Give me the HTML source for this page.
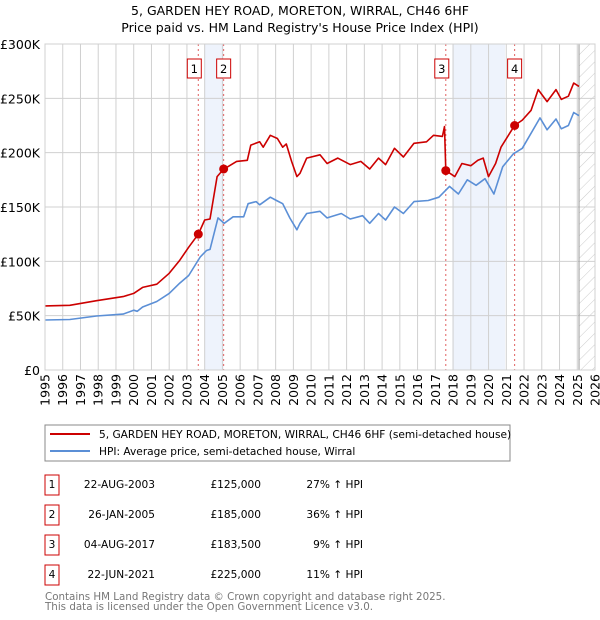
<!DOCTYPE html>
<html><head><meta charset="utf-8">
<style>
body{margin:0;background:#fff;font-family:"DejaVu Sans","Liberation Sans",sans-serif;}
#wrap{position:relative;width:600px;height:620px;overflow:hidden;}
svg text{font-family:"DejaVu Sans","Liberation Sans",sans-serif;}
</style></head>
<body>
<div id="wrap">
<svg id="chart" width="600" height="620"></svg>
</div>
<script>
const yTicks=[0,50000,100000,150000,200000,250000,300000];
const yTickLabels=["£0","£50K","£100K","£150K","£200K","£250K","£300K"];
const xYears=[1995,1996,1997,1998,1999,2000,2001,2002,2003,2004,2005,2006,2007,2008,2009,2010,2011,2012,2013,2014,2015,2016,2017,2018,2019,2020,2021,2022,2023,2024,2025,2026];
const hpiT=[1995,1996.4,1997.9,1999.4,2000,2000.2,2000.5,2001.3,2002,2002.6,2003.1,2003.75,2004.1,2004.3,2004.75,2005.1,2005.6,2006.2,2006.45,2006.9,2007.1,2007.7,2008.05,2008.4,2008.8,2009.2,2009.37,2009.75,2010.5,2010.9,2011.7,2012.2,2012.9,2013.3,2013.8,2014.2,2014.7,2015.2,2015.8,2016.6,2017.2,2017.8,2018.3,2018.8,2019.3,2019.8,2020.3,2020.8,2021.4,2021.9,2022.9,2023.3,2023.8,2024.1,2024.5,2024.8,2025.1];
const hpiV=[46000,46500,49700,51400,55000,54000,58000,63000,70500,80000,87000,104000,110000,111000,140000,135000,141000,141000,153000,155000,152000,159000,156000,153000,140000,129000,135000,144000,146000,140000,144000,139000,142000,135000,144000,138000,150000,144000,155000,156000,159000,169000,162000,175000,170000,176000,162000,187000,199000,204000,232000,221000,231000,222000,225000,237000,234000];
const priceT=[1995,1996.4,1997.9,1999.4,2000,2000.5,2001.3,2002,2002.6,2003.1,2003.64,2004,2004.3,2004.7,2005.07,2005.3,2005.8,2006.4,2006.6,2007.1,2007.3,2007.7,2008.1,2008.4,2008.6,2008.9,2009.2,2009.37,2009.75,2010.5,2010.9,2011.5,2012.2,2012.8,2013.3,2013.8,2014.2,2014.7,2015.2,2015.8,2016.5,2016.9,2017.4,2017.52,2017.59,2018.1,2018.5,2019,2019.4,2019.7,2020,2020.4,2020.7,2021.2,2021.47,2021.9,2022.4,2022.8,2023.3,2023.8,2024.1,2024.5,2024.8,2025.1];
const priceV=[59000,59500,63800,67500,70500,76000,79000,89000,101000,113000,125000,138000,139000,178000,185000,187000,192000,193000,207000,210000,205000,216000,213000,205000,208000,192000,178000,181000,195000,198000,190000,195000,189000,192000,185000,195000,189000,204000,196000,208600,210000,216000,215000,224000,183500,178000,190000,188000,193000,195000,178000,190000,205000,218000,225000,230000,239000,258000,247000,258000,249000,252000,264000,261000];
const saleT=[2003.64,2005.07,2017.59,2021.47];
const saleV=[125000,185000,183500,225000];
const saleLabels=["1","2","3","4"];
const shadeStart=[2004.0,2017.96];
const shadeEnd=[2005.07,2020.93];

const NS="http://www.w3.org/2000/svg";
const svg=document.getElementById('chart');
const X0=45,X1=595,Y0=370,Y1=44;
const xs=t=>X0+(t-1995)/31*(X1-X0);
const ys=v=>Y0-v/300000*(Y0-Y1);
function mk(tag,a,parent){const e=document.createElementNS(NS,tag);for(const k in a)e.setAttribute(k,a[k]);(parent||svg).appendChild(e);return e;}

let t=mk('text',{x:300,y:15,'text-anchor':'middle','font-size':12.5,fill:'#000'});t.textContent="5, GARDEN HEY ROAD, MORETON, WIRRAL, CH46 6HF";


t=mk('text',{x:300,y:32,'text-anchor':'middle','font-size':12.5,fill:'#000'});t.textContent="Price paid vs. HM Land Registry's House Price Index (HPI)";



for(let i=0;i<shadeStart.length;i++){
  const r=mk('rect',{x:xs(shadeStart[i]),y:Y1,width:xs(shadeEnd[i])-xs(shadeStart[i]),height:Y0-Y1,fill:'#eef3fc'});
  
  
}
const defs=mk('defs',{});
const pat=mk('pattern',{id:'hatch',width:8,height:8,patternUnits:'userSpaceOnUse',patternTransform:'rotate(45)'},defs);
mk('line',{x1:0,y1:0,x2:0,y2:8,stroke:'#ccc','stroke-width':1},pat);
const hx=xs(2025.1);
const hr=mk('rect',{x:hx,y:Y1,width:X1-hx,height:Y0-Y1,fill:'url(#hatch)'});


xYears.forEach(y=>{const l=mk('line',{x1:xs(y),x2:xs(y),y1:Y1,y2:Y0,stroke:'#d0d0d0','stroke-width':1});


const tx=mk('text',{x:0,y:0,'text-anchor':'end','font-size':12.5,fill:'#000',transform:'translate('+(xs(y)+4.5)+',374) rotate(-90)'});tx.textContent=y;

});
yTicks.forEach((v,i)=>{const l=mk('line',{x1:X0,x2:X1,y1:ys(v),y2:ys(v),stroke:'#d0d0d0','stroke-width':1});


const tx=mk('text',{x:40,y:ys(v)+5,'text-anchor':'end','font-size':12.5,fill:'#000'});tx.textContent=yTickLabels[i];

});
mk('line',{x1:hx,x2:hx,y1:Y1,y2:Y0,stroke:'#999','stroke-width':1});
saleT.forEach((s,i)=>{const l=mk('line',{x1:xs(s),x2:xs(s),y1:Y1,y2:Y0,stroke:'#e06060','stroke-width':1,'stroke-dasharray':'2,3'});


const g=mk('g',{});


const bx=(i==0||i==2)?xs(s)-11:xs(s)-7;
mk('rect',{x:bx,y:59,width:14,height:19,fill:'#fff',stroke:'#cc0000','stroke-width':1},g);
const tx=mk('text',{x:bx+7,y:73,'text-anchor':'middle','font-size':11.5,fill:'#000'},g);tx.textContent=saleLabels[i];});
function path(T,V,color,name){const d=T.map((tt,i)=>(i?'L':'M')+xs(tt).toFixed(1)+','+ys(V[i]).toFixed(1)).join('');
const p=mk('path',{d:d,fill:'none',stroke:color,'stroke-width':1.6,'stroke-linejoin':'round'});

}
path(hpiT,hpiV,'#5b8fd6','hpi-line');
path(priceT,priceV,'#cc0000','price-paid-line');
saleT.forEach((s,i)=>{const c=mk('circle',{cx:xs(s),cy:ys(saleV[i]),r:4.5,fill:'#cc0000'});

});
mk('rect',{x:X0,y:Y1,width:X1-X0,height:Y0-Y1,fill:'none',stroke:'#d0d0d0'});

const lg=mk('g',{});


mk('rect',{x:45,y:425,width:465,height:36,fill:'#fff',stroke:'#888'},lg);
mk('line',{x1:50,x2:90,y1:434,y2:434,stroke:'#cc0000','stroke-width':2},lg);
mk('line',{x1:50,x2:90,y1:451,y2:451,stroke:'#5b8fd6','stroke-width':2},lg);
t=mk('text',{x:99,y:438,'font-size':10.6,fill:'#000'},lg);t.textContent="5, GARDEN HEY ROAD, MORETON, WIRRAL, CH46 6HF (semi-detached house)";


t=mk('text',{x:99,y:455,'font-size':10.6,fill:'#000'},lg);t.textContent="HPI: Average price, semi-detached house, Wirral";



const dates=["22-AUG-2003","26-JAN-2005","04-AUG-2017","22-JUN-2021"];
const prices=["£125,000","£185,000","£183,500","£225,000"];
const pcts=["27% ↑ HPI","36% ↑ HPI","9% ↑ HPI","11% ↑ HPI"];
for(let i=0;i<4;i++){const cy=483+i*30;
const g=mk('g',{});


mk('rect',{x:45,y:cy-8,width:14,height:20,fill:'#fff',stroke:'#cc0000'},g);
let tx=mk('text',{x:52,y:cy+5,'text-anchor':'middle','font-size':10.6,fill:'#000'},g);tx.textContent=saleLabels[i];
tx=mk('text',{x:155,y:cy+5,'text-anchor':'end','font-size':10.6,fill:'#000'},g);tx.textContent=dates[i];
tx=mk('text',{x:261,y:cy+5,'text-anchor':'end','font-size':10.6,fill:'#000'},g);tx.textContent=prices[i];
tx=mk('text',{x:363,y:cy+5,'text-anchor':'end','font-size':10.6,fill:'#000'},g);tx.textContent=pcts[i];}
t=mk('text',{x:45,y:600,'font-size':10.3,fill:'#777'});t.textContent="Contains HM Land Registry data © Crown copyright and database right 2025.";


t=mk('text',{x:45,y:610,'font-size':10.3,fill:'#777'});t.textContent="This data is licensed under the Open Government Licence v3.0.";


</script>
</body></html>
